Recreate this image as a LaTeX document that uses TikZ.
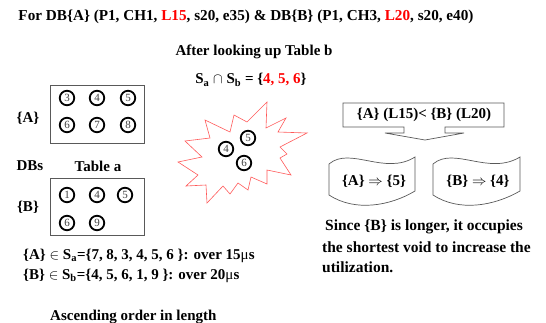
\documentclass[tikz,border=0pt]{standalone}
\usepackage{fontspec}
\setmainfont{Liberation Serif}
\begin{document}
\begin{tikzpicture}[x=1pt,y=-1pt,
  txt/.style={font=\bfseries\fontsize{15}{17}\selectfont, inner sep=0pt},
  num/.style={circle, draw=black, line width=1.8pt, minimum size=14.5pt, inner sep=0pt,
    font=\fontsize{11}{12}\selectfont, text=black!75},
  tbox/.style={draw=black!65, line width=0.8pt},
  star/.style={draw=red!65, line width=0.6pt},
  shp/.style={draw=black!65, line width=0.7pt}]
\useasboundingbox (0,0) rectangle (546,322);
% title
\node[txt, font=\bfseries\fontsize{15.2}{17}\selectfont] (title) at (246,17)
  {For DB\{A\} (P1, CH1, \textcolor{red}{L15}, s20, e35) \& DB\{B\} (P1, CH3, \textcolor{red}{L20}, s20, e40)};
\node[txt] (after) at (254,52) {After looking up Table b};
\node[txt] (inter) at (251,80) {S\textsubscript{a} $\cap$ S\textsubscript{b} = \{\textcolor{red}{4, 5, 6}\}};
% table a
\node[tbox, minimum width=94pt, minimum height=58pt] (boxA) at (97,114) {};
\node[tbox, minimum width=94pt, minimum height=57pt] (boxB) at (97,206.5) {};
\node[txt] (labA) at (28,118) {\{A\}};
\node[txt] (labB) at (28,207) {\{B\}};
\node[txt] (dbs) at (30,166) {DBs};
\node[txt] (tabA) at (98,166) {Table a};
\node[num] (a3) at (67,98) {3};
\node[num] (a4) at (97,98) {4};
\node[num] (a5) at (128,98) {5};
\node[num] (a6) at (67,125) {6};
\node[num] (a7) at (97,125) {7};
\node[num] (a8) at (128,125) {8};
\node[num] (b1) at (67,195) {1};
\node[num] (b4) at (97,195) {4};
\node[num] (b5) at (125,195) {5};
\node[num] (b6) at (67,223) {6};
\node[num] (b9) at (97,223) {9};
% star
\draw[star] (267,102) -- (247,122) -- (234,115) -- (230,132) -- (205,120) -- (210,138)
  -- (185,141) -- (202,157) -- (178,162) -- (198,175) -- (186,186) -- (206,185)
  -- (207,203) -- (223,186) -- (230,194) -- (238,183) -- (248,190) -- (251,177)
  -- (267,184) -- (267,170) -- (291,175) -- (280,158) -- (287,154) -- (280,147)
  -- (307,133) -- (278,132) -- (286,118) -- (266,128) -- cycle;
\node[num] (s5) at (248,138) {5};
\node[num] (s4) at (226,149) {4};
\node[num] (s6) at (244,163) {6};
% bottom texts
\node[txt, anchor=west] (sa) at (23,256) {\{A\} $\in$ S\textsubscript{a}=\{7, 8, 3, 4, 5, 6 \}: over 15{\mdseries μ}s};
\node[txt, anchor=west] (sb) at (23,276) {\{B\} $\in$ S\textsubscript{b}=\{4, 5, 6, 1, 9 \}: over 20{\mdseries μ}s};
\node[txt, anchor=base west] (asc) at (50,320) {Ascending order in length};
% callout
\draw[shp] (404,127) -- (343,127) -- (343,103) -- (504,103) -- (504,127) -- (445,127)
  -- (445,133) -- (464,133) -- (425,140) -- (385,133) -- (404,133) -- cycle;
\node[txt] (cmp) at (424,115) {\{A\} (L15)< \{B\} (L20)};
% flags
\draw[shp] (329,164) .. controls (350,146) and (385,176) .. (415,157) -- (415,191)
  .. controls (390,206) and (355,212) .. (329,195) -- cycle;
\draw[shp] (433,164) .. controls (454,146) and (489,176) .. (520,157) -- (520,191)
  .. controls (494,206) and (459,212) .. (433,195) -- cycle;
\node[txt] (fa) at (374,181) {\{A\} $\Rightarrow$ \{5\}};
\node[txt] (fb) at (478,181) {\{B\} $\Rightarrow$ \{4\}};
% explanation
\node[txt, anchor=west, font=\bfseries\fontsize{15.5}{17}\selectfont] (e1) at (325,227) {Since \{B\} is longer, it occupies};
\node[txt, anchor=west, font=\bfseries\fontsize{15.5}{17}\selectfont] (e2) at (322,247) {the shortest void to increase the};
\node[txt, anchor=west, font=\bfseries\fontsize{15.5}{17}\selectfont] (e3) at (322,267) {utilization.};
\end{tikzpicture}
\end{document}
